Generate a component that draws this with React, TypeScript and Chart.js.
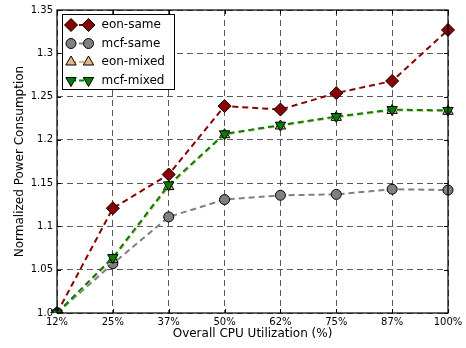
import React, { useEffect, useRef } from "react";
import { Chart, registerables } from "chart.js";

Chart.register(...registerables);

const categories = ["12%", "25%", "37%", "50%", "62%", "75%", "87%", "100%"];
const eonSame = [1.0, 1.121, 1.16, 1.239, 1.235, 1.254, 1.268, 1.327];
const mcfSame = [1.0, 1.057, 1.111, 1.131, 1.136, 1.137, 1.143, 1.142];
const eonMixed = [1.0, 1.062, 1.146, 1.206, 1.216, 1.226, 1.234, 1.233];
const mcfMixed = [1.0, 1.064, 1.148, 1.207, 1.217, 1.227, 1.235, 1.234];
const yTickLabels = ["1.0", "1.05", "1.1", "1.15", "1.2", "1.25", "1.3", "1.35"];
const seriesNames = ["eon-same", "mcf-same", "eon-mixed", "mcf-mixed"];

const FONT = "'DejaVu Sans', sans-serif";

const seriesStyles = [
  { line: "#8b0000", fill: "#8b0000", shape: "rectRot", radius: 6.5, rotation: 0 },
  { line: "#808080", fill: "#808080", shape: "circle", radius: 5, rotation: 0 },
  { line: "#deb887", fill: "#deb887", shape: "triangle", radius: 6, rotation: 0 },
  { line: "#008000", fill: "#008000", shape: "triangle", radius: 6, rotation: 180 },
];

const framePlugin = {
  id: "frameAndLegend",
  afterDraw(chart: any) {
    const { ctx, chartArea } = chart;
    const { left, right, top, bottom } = chartArea;
    ctx.save();
    // ticks inward
    ctx.strokeStyle = "#000";
    ctx.lineWidth = 1;
    ctx.setLineDash([]);
    const xs = chart.scales.x;
    const ys = chart.scales.y;
    ctx.beginPath();
    xs.ticks.forEach((_t: any, i: number) => {
      const px = Math.round(xs.getPixelForTick(i)) + 0.5;
      ctx.moveTo(px, bottom);
      ctx.lineTo(px, bottom - 4);
      ctx.moveTo(px, top);
      ctx.lineTo(px, top + 4);
    });
    ys.ticks.forEach((_t: any, i: number) => {
      const py = Math.round(ys.getPixelForTick(i)) + 0.5;
      ctx.moveTo(left, py);
      ctx.lineTo(left + 4, py);
      ctx.moveTo(right, py);
      ctx.lineTo(right - 4, py);
    });
    ctx.stroke();
    // frame
    ctx.strokeStyle = "#000";
    ctx.lineWidth = 1.2;
    ctx.strokeRect(left, top, right - left, bottom - top);

    // legend
    const lx = 62, ly = 14, lw = 112, lh = 75;
    ctx.fillStyle = "#fff";
    ctx.fillRect(lx, ly, lw, lh);
    ctx.strokeStyle = "#000";
    ctx.lineWidth = 1;
    ctx.strokeRect(lx + 0.5, ly + 0.5, lw, lh);
    const rows = [25, 43.5, 62, 80.5];
    const m1 = 71, m2 = 88.5;
    seriesNames.forEach((name, i) => {
      const s = seriesStyles[i];
      const y = rows[i];
      ctx.strokeStyle = s.line;
      ctx.lineWidth = 2;
      ctx.setLineDash([5, 3]);
      ctx.beginPath();
      ctx.moveTo(m1, y);
      ctx.lineTo(m2, y);
      ctx.stroke();
      ctx.setLineDash([]);
      ctx.fillStyle = s.fill;
      ctx.strokeStyle = "#000";
      ctx.lineWidth = 1;
      const opts = { pointStyle: s.shape, radius: s.radius, rotation: s.rotation, borderWidth: 1 };
      (Chart as any).helpers?.drawPoint
        ? (Chart as any).helpers.drawPoint(ctx, opts, m1, y)
        : null;
      drawMarker(ctx, s.shape, s.radius, s.rotation, m1, y);
      drawMarker(ctx, s.shape, s.radius, s.rotation, m2, y);
      ctx.fillStyle = "#000";
      ctx.font = `12px ${FONT}`;
      ctx.textBaseline = "middle";
      ctx.textAlign = "left";
      ctx.fillText(name, 101.5, y);
    });
    ctx.restore();
  },
};

function drawMarker(ctx: CanvasRenderingContext2D, shape: string, r: number, rotDeg: number, x: number, y: number) {
  ctx.beginPath();
  if (shape === "circle") {
    ctx.arc(x, y, r, 0, Math.PI * 2);
  } else if (shape === "rectRot") {
    ctx.moveTo(x, y - r);
    ctx.lineTo(x + r, y);
    ctx.lineTo(x, y + r);
    ctx.lineTo(x - r, y);
  } else {
    let a = (rotDeg * Math.PI) / 180;
    for (let k = 0; k < 3; k++) {
      const px = x + Math.sin(a) * r;
      const py = y - Math.cos(a) * r;
      if (k === 0) ctx.moveTo(px, py);
      else ctx.lineTo(px, py);
      a += (2 * Math.PI) / 3;
    }
  }
  ctx.closePath();
  ctx.fill();
  ctx.stroke();
}

export default function App() {
  const ref = useRef<HTMLCanvasElement | null>(null);
  useEffect(() => {
    if (!ref.current) return;
    const dataArrays = [eonSame, mcfSame, eonMixed, mcfMixed];
    const chart = new Chart(ref.current, {
      type: "line",
      data: {
        labels: categories,
        datasets: dataArrays.map((d, i) => ({
          label: seriesNames[i],
          data: d,
          borderColor: seriesStyles[i].line,
          borderWidth: 2,
          borderDash: [6, 4],
          backgroundColor: seriesStyles[i].fill,
          pointBackgroundColor: seriesStyles[i].fill,
          pointBorderColor: "#000",
          pointBorderWidth: 1,
          pointStyle: seriesStyles[i].shape as any,
          pointRadius: seriesStyles[i].radius,
          pointRotation: seriesStyles[i].rotation,
          tension: 0,
          fill: false,
          order: 4 - i,
        })),
      },
      options: {
        responsive: false,
        animation: false,
        events: [],
        layout: { padding: { top: 10, right: 18, left: 0, bottom: 0 } },
        plugins: {
          legend: { display: false },
          tooltip: { enabled: false },
        },
        scales: {
          x: {
            type: "category",
            offset: false,
            grid: { color: "rgba(0,0,0,0.65)", lineWidth: 1, drawTicks: false },
            border: { display: false, dash: [6, 4] },
            ticks: {
              autoSkip: false,
              maxRotation: 0,
              minRotation: 0,
              padding: 3,
              color: "#000",
              font: { family: FONT, size: 10 },
            },
            title: {
              display: true,
              text: "Overall CPU Utilization (%)",
              color: "#000",
              font: { family: FONT, size: 12 },
              padding: { top: 0, bottom: 7 },
            },
            afterFit(scale: any) {
              scale.height = 35;
            },
          },
          y: {
            min: 1.0,
            max: 1.35,
            grid: { color: "rgba(0,0,0,0.65)", lineWidth: 1, drawTicks: false },
            border: { display: false, dash: [6, 4] },
            ticks: {
              stepSize: 0.05,
              padding: 4,
              color: "#000",
              font: { family: FONT, size: 10 },
              callback: (_v: any, i: number) => yTickLabels[i],
            },
            title: {
              display: true,
              text: "Normalized Power Consumption",
              color: "#000",
              font: { family: FONT, size: 12 },
              padding: { top: 13, bottom: 0 },
            },
            afterFit(scale: any) {
              scale.width = 57;
            },
          },
        },
      },
      plugins: [framePlugin],
    });
    return () => chart.destroy();
  }, []);
  return (
    <canvas
      ref={ref}
      width={466}
      height={348}
      style={{ position: "fixed", left: 0, top: 0, display: "block", background: "#fff" }}
    />
  );
}
